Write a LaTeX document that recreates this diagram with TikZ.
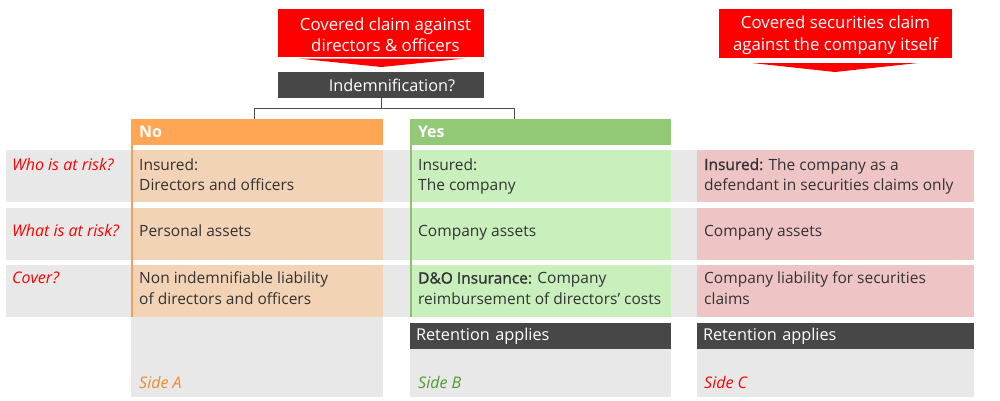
\documentclass[tikz,border=0pt]{standalone}
\usepackage{fontspec}
\setmainfont{Open Sans}
\newfontfamily\sbfont{Open Sans}[FakeBold=1.2]
\definecolor{hdrA}{HTML}{FFA654}
\definecolor{cellA}{HTML}{F2D3B5}
\definecolor{lineA}{HTML}{F5A05A}
\definecolor{hdrB}{HTML}{93C877}
\definecolor{cellB}{HTML}{C9EFBD}
\definecolor{lineB}{HTML}{8CC36E}
\definecolor{cellC}{HTML}{EEC4C4}
\definecolor{band}{HTML}{E8E8E8}
\definecolor{darkc}{HTML}{474747}
\definecolor{txt}{HTML}{333333}
\definecolor{sideA}{HTML}{F08A2E}
\definecolor{sideB}{HTML}{4E9A2F}
\definecolor{redc}{HTML}{FF0000}
\definecolor{treec}{HTML}{4D4D4D}
\newcommand\bodyfont{\fontsize{15.5}{21}\selectfont}
\newcommand\labfont{\fontsize{16}{21}\selectfont}
\newcommand\barfont{\fontsize{16.3}{21}\selectfont}
\newcommand\titlefont{\fontsize{16.8}{21.5}\selectfont}
\begin{document}
\begin{tikzpicture}[x=1pt,y=-1pt,
  celltxt/.style={anchor=base west,inner sep=0pt,text=txt,font=\bodyfont},
  rowlab/.style={anchor=base west,inner sep=0pt,text=redc,font=\labfont\itshape},
  sidelab/.style={anchor=base west,inner sep=0pt,font=\labfont\itshape},
  hdrbox/.style={minimum height=26pt,inner ysep=0pt,inner xsep=8pt,align=left,text=white,font=\labfont\bfseries},
  darkbar/.style={fill=darkc,minimum height=26pt,inner ysep=0pt,inner xsep=6pt,align=left,text=white,font=\barfont},
  redbox/.style={fill=redc,inner sep=0pt,align=center,text=white,font=\titlefont},
  treeline/.style={draw=treec,line width=1pt}]
\useasboundingbox (0,0) rectangle (1000,400);
% row bands
\fill[band] (6,150) rectangle (974,202);
\fill[band] (6,208) rectangle (974,259.5);
\fill[band] (6,265) rectangle (974,317);
% bottom gray areas
\fill[band] (131,317) rectangle (383,397);
\fill[band] (410,348) rectangle (671,397);
\fill[band] (697,348) rectangle (974,397);
% column A cells
\fill[cellA] (131,150) rectangle (383,202);
\fill[cellA] (131,208) rectangle (383,259.5);
\fill[cellA] (131,265) rectangle (383,317);
% column B cells
\fill[cellB] (410,150) rectangle (671,202);
\fill[cellB] (410,208) rectangle (671,259.5);
\fill[cellB] (410,265) rectangle (671,317);
% column C cells
\fill[cellC] (697,150) rectangle (974,202);
\fill[cellC] (697,208) rectangle (974,259.5);
\fill[cellC] (697,265) rectangle (974,317);
% headers
\node[hdrbox,fill=hdrA,text width=236pt] (noh) at (257,132) {No};
\node[hdrbox,fill=hdrB,text width=245pt] (yesh) at (540.5,132) {Yes};
% left borders
\draw[lineA,line width=1.5pt] (131.75,145) -- (131.75,317);
\draw[lineB,line width=1.5pt] (410.75,145) -- (410.75,317);
% top boxes
\node[redbox,minimum width=206pt,minimum height=48pt] (t1) at (381,33) {};
\node[redbox,fill=none] (t1t) at (385.5,34.5) {Covered claim against\\directors \& officers};
\fill[redc] (298,58.5) -- (465,58.5) -- (381.5,67) -- cycle;
\node[redbox,minimum width=233pt,minimum height=49pt] (t2) at (835.5,33.5) {};
\node[redbox,fill=none] (t2t) at (835.5,35) {Covered securities claim\\against the company itself};
\fill[redc] (752,63) -- (918,63) -- (835,72) -- cycle;
% indemnification
\node[darkbar,align=center,minimum width=206pt,inner xsep=0pt] (ind) at (381,85) {\hspace*{22pt}Indemnification?};
\coordinate (ja) at (254,108);
\coordinate (jb) at (514,108);
\draw[treeline] (ind.south) -- (ind.south |- ja);
\draw[treeline] (ja) -- (jb);
\draw[treeline] (ja) -- (ja |- noh.north);
\draw[treeline] (jb) -- (jb |- yesh.north);
% row labels
\node[rowlab] (l1) at (12,170) {Who is at risk?};
\node[rowlab] (l2) at (12,236.5) {What is at risk?};
\node[rowlab] (l3) at (12,283.5) {Cover?};
% column A text
\node[celltxt] (a1) at (139,170) {Insured:};
\node[celltxt] (a2) at (139,190.5) {Directors and officers};
\node[celltxt] (a3) at (139,236.5) {Personal assets};
\node[celltxt] (a4) at (139,283.5) {Non indemnifiable liability};
\node[celltxt] (a5) at (139,304) {of directors and officers};
% column B text
\node[celltxt] (b1) at (418,170) {Insured:};
\node[celltxt] (b2) at (418,190.5) {The company};
\node[celltxt] (b3) at (418,236.5) {Company assets};
\node[celltxt] (b4) at (418,283.5) {{\sbfont D\&O Insurance:} Company};
\node[celltxt] (b5) at (418,304) {reimbursement of directors’ costs};
% column C text
\node[celltxt] (c1) at (704,170) {{\sbfont Insured:} The company as a};
\node[celltxt] (c2) at (704,190.5) {defendant in securities claims only};
\node[celltxt] (c3) at (704,236.5) {Company assets};
\node[celltxt] (c4) at (704,283.5) {Company liability for securities};
\node[celltxt] (c5) at (704,304) {claims};
% retention bars
\node[darkbar,text width=249pt] (rb) at (540.5,336) {Retention applies};
\node[darkbar,text width=265pt] (rc) at (835.5,336) {Retention applies};
% side labels
\node[sidelab,text=sideA] (sa) at (139,388) {Side A};
\node[sidelab,text=sideB] (sb) at (418,388) {Side B};
\node[sidelab,text=redc] (sc) at (704,388) {Side C};
\end{tikzpicture}
\end{document}
